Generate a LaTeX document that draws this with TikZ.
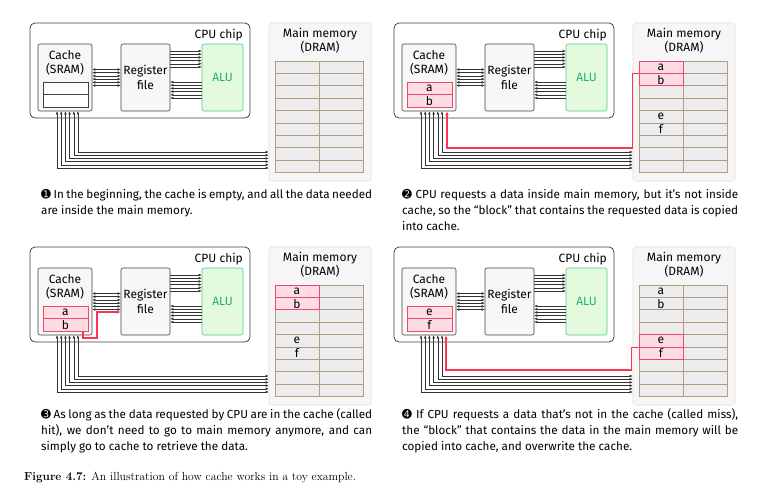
\documentclass[tikz,border=0pt]{standalone}
\usepackage{fontspec}
\newfontfamily\firafont{Fira Sans}
\newfontfamily\dingfont{DejaVu Sans}
\usepackage{tikz}
\usetikzlibrary{arrows.meta, positioning, calc}
\definecolor{alugreen}{HTML}{4CC893}
\definecolor{alufill}{HTML}{E4FADF}
\definecolor{alutext}{HTML}{1FAE78}
\definecolor{hlred}{HTML}{F2476A}
\definecolor{hlpink}{HTML}{FDDDE3}
\definecolor{arrowred}{HTML}{FF3355}
\definecolor{membrown}{HTML}{B39B80}
\definecolor{memcellfill}{HTML}{ECECEC}
\definecolor{memboxfill}{HTML}{F6F6F6}

\tikzset{
  chip/.style={draw=black!75, line width=0.8pt, rounded corners=5pt, fill=white},
  unit/.style={draw=black!75, line width=0.6pt, rounded corners=2pt, fill=black!3,
    minimum width=54pt, minimum height=67pt, inner sep=0, align=center},
  alubox/.style={unit, draw=alugreen, fill=alufill, text=alutext},
  membox/.style={draw=black!12, line width=0.6pt, rounded corners=3pt, fill=memboxfill},
  memcell/.style={draw=membrown, line width=0.8pt, fill=memcellfill,
    minimum width=44pt, minimum height=12.4pt, inner sep=0},
  cachecell/.style={draw=black!75, line width=0.8pt, fill=white,
    minimum width=45pt, minimum height=12.5pt, inner sep=0},
  hlcell/.style={memcell, draw=hlred, fill=hlpink},
  bus/.style={black!80, line width=0.45pt},
  tip/.tip={Latex[length=3pt,width=2.6pt]},
  hlarrow/.style={arrowred, line width=1.1pt, -{Latex[length=4pt,width=3.6pt]}},
  caption/.style={text width=331pt, align=justify, inner sep=0, anchor=north west,
    font={\firafont\fontsize{11.7}{16}\selectfont\hyphenpenalty=10000}}
}

% one CPU chip + main memory, in pixel units
\newcommand{\cachepanel}{%
  \node[chip, minimum width=220pt, minimum height=95pt] (cpu) at (140,70.5) {};
  \node[anchor=east, inner sep=0] (cpulabel) at (243,35) {CPU chip};
  \node[unit] (cache) at (65,77.5) {};
  \node[align=center, inner sep=0] (cachelabel) at (65,63) {Cache\\(SRAM)};
  \node[cachecell] (k1) at (65.5,88.25) {};
  \node[cachecell] (k2) at (65.5,100.75) {};
  \node[unit, minimum width=49pt] (reg) at (145.5,77.5) {Register\\file};
  \node[alubox, minimum width=41pt] (alu) at (222.5,77.5) {ALU};
  % main memory
  \node[membox, minimum width=102pt, minimum height=158pt] (mem) at (320,102) {};
  \node[align=center, inner sep=0] (memlabel) at (320,40.5) {Main memory\\(DRAM)};
  \foreach \r in {1,...,9}
    \foreach \c in {1,2}
      \node[memcell] (m\r\c) at ({297+(\c-1)*44},{67.2+(\r-1)*12.4}) {};
  % buses
  \foreach \i [evaluate=\i as \d using 8-3.2*\i] in {0,...,5}
    \draw[bus, tip-tip] ([yshift=\d pt]cache.east) -- ([yshift=\d pt]reg.west);
  \foreach \i [evaluate=\i as \d using 26.5-3.2*\i] in {0,...,5}
    \draw[bus, -tip] ([yshift=\d pt]reg.east) -- ([yshift=\d pt]alu.west);
  \foreach \i [evaluate=\i as \d using -4.5-3.2*\i] in {0,...,5}
    \draw[bus, -tip] ([yshift=\d pt]alu.west) -- ([yshift=\d pt]reg.east);
  \foreach \i [evaluate=\i as \dx using -8+4.2*\i, evaluate=\i as \dy using 3.2*\i-66] in {0,...,5}
    \draw[bus, tip-tip] ([xshift=\dx pt]cache.south) |- ([yshift=\dy pt]mem.west);
}

\begin{document}
\begin{tikzpicture}[x=1pt, y=-1pt, font=\firafont\fontsize{12}{14.5}\selectfont]
  \useasboundingbox (0,0) rectangle (771,490);

  % 1: empty cache
  \begin{scope}[name prefix=p1-]
    \cachepanel
  \end{scope}

  % 2: miss, block copied
  \begin{scope}[shift={(364,0)}, name prefix=p2-]
    \cachepanel
    \node[hlcell] (h1) at (m11) {a};
    \node[hlcell] (h2) at (m21) {b};
    \node[inner sep=0] (t5) at (m51) {e};
    \node[inner sep=0] (t6) at (m61) {f};
    \node[hlcell, minimum width=45pt, minimum height=12.5pt] (c1) at (k1) {a};
    \node[hlcell, minimum width=45pt, minimum height=12.5pt] (c2) at (k2) {b};
    \coordinate (turn) at (83,148);
    \draw[hlarrow] (h1.south west) -- ++(-6,0) |- (turn) -- (turn |- cache.south);
  \end{scope}

  % 3: hit
  \begin{scope}[shift={(0,224)}, name prefix=p3-]
    \cachepanel
    \node[hlcell] (h1) at (m11) {a};
    \node[hlcell] (h2) at (m21) {b};
    \node[inner sep=0] (t5) at (m51) {e};
    \node[inner sep=0] (t6) at (m61) {f};
    \node[hlcell, minimum width=45pt, minimum height=12.5pt] (c1) at (k1) {a};
    \node[hlcell, minimum width=45pt, minimum height=12.5pt] (c2) at (k2) {b};
    \coordinate (bend) at (97,114);
    \draw[hlarrow] ([xshift=17.5pt]c2.south) |- (bend) |- ([yshift=-10.5pt]reg.west);
  \end{scope}

  % 4: miss, overwrite
  \begin{scope}[shift={(364,224)}, name prefix=p4-]
    \cachepanel
    \node[inner sep=0] (t1) at (m11) {a};
    \node[inner sep=0] (t2) at (m21) {b};
    \node[hlcell] (h5) at (m51) {e};
    \node[hlcell] (h6) at (m61) {f};
    \node[hlcell, minimum width=45pt, minimum height=12.5pt] (c1) at (k1) {e};
    \node[hlcell, minimum width=45pt, minimum height=12.5pt] (c2) at (k2) {f};
    \coordinate (turn) at (82,146);
    \draw[hlarrow] (h5.south west) -- ++(-7,0) |- (turn) -- (turn |- cache.south);
  \end{scope}

  % captions
  \node[caption] (cap1) at (41,189) {{\dingfont ➊} In the beginning, the cache is empty, and all the data needed are inside the main memory.};
  \node[caption, text width=336pt] (cap2) at (402,189) {{\dingfont ➋} CPU requests a data inside main memory, but it’s not inside cache, so the “block” that contains the requested data is copied into cache.};
  \node[caption] (cap3) at (41,408) {{\dingfont ➌} As long as the data requested by CPU are in the cache (called hit), we don’t need to go to main memory anymore, and can simply go to cache to retrieve the data.};
  \node[caption, text width=336pt] (cap4) at (402,408) {{\dingfont ➍} If CPU requests a data that’s not in the cache (called miss), the “block” that contains the data in the main memory will be copied into cache, and overwrite the cache.};
  \node[anchor=west, inner sep=0, font=\rmfamily\fontsize{11.7}{13}\selectfont] (figcap) at (24,478)
    {\textbf{Figure 4.7:} An illustration of how cache works in a toy example.};
\end{tikzpicture}
\end{document}
